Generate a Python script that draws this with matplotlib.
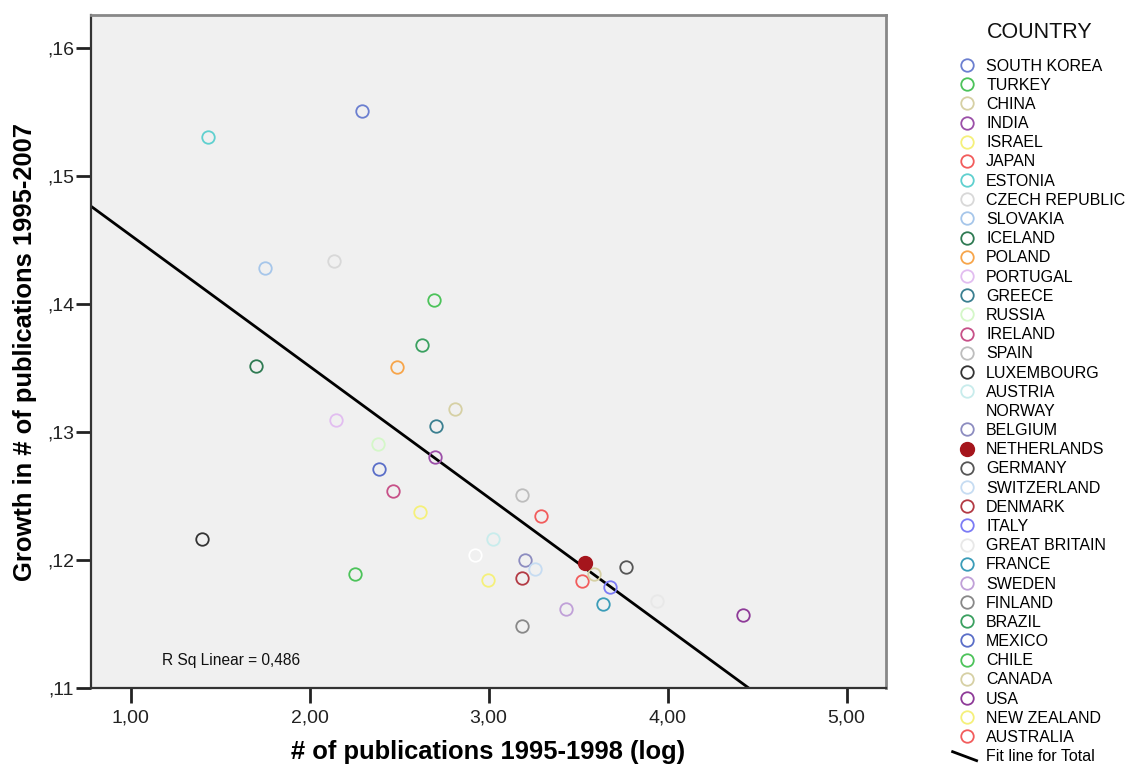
import matplotlib
matplotlib.use("Agg")
import matplotlib.pyplot as plt
from matplotlib.lines import Line2D
from matplotlib.legend_handler import HandlerLine2D
from matplotlib.ticker import FixedLocator

plt.rcParams['font.family'] = ['Liberation Sans', 'DejaVu Sans']

# --- data ---
countries = ["SOUTH KOREA", "TURKEY", "CHINA", "INDIA", "ISRAEL", "JAPAN",
             "ESTONIA", "CZECH REPUBLIC", "SLOVAKIA", "ICELAND", "POLAND",
             "PORTUGAL", "GREECE", "RUSSIA", "IRELAND", "SPAIN", "LUXEMBOURG",
             "AUSTRIA", "NORWAY", "BELGIUM", "NETHERLANDS", "GERMANY",
             "SWITZERLAND", "DENMARK", "ITALY", "GREAT BRITAIN", "FRANCE",
             "SWEDEN", "FINLAND", "BRAZIL", "MEXICO", "CHILE", "CANADA", "USA",
             "NEW ZEALAND", "AUSTRALIA"]

pubs_log = [2.290, 2.694, 2.810, 2.702, 2.996, 3.520,
            1.432, 2.134, 1.750, 1.702, 2.486,
            2.147, 2.707, 2.382, 2.465, 3.189, 1.400,
            3.024, 2.923, 3.203, 3.540, 3.765,
            3.259, 3.189, 3.678, 3.939, 3.639,
            3.432, 3.186, 2.627, 2.387, 2.255, 3.590, 4.421,
            2.615, 3.292]

growth = [0.1551, 0.1403, 0.1318, 0.1281, 0.1185, 0.1184,
          0.1531, 0.1434, 0.1428, 0.1352, 0.1351,
          0.1310, 0.1305, 0.1291, 0.1254, 0.1251, 0.1217,
          0.1217, 0.1204, 0.1200, 0.1198, 0.1195,
          0.1193, 0.1186, 0.1179, 0.1168, 0.1166,
          0.1162, 0.1149, 0.1368, 0.1271, 0.1189, 0.1189, 0.1157,
          0.1238, 0.1235]

colors = ["#6b7fd0", "#4cc35a", "#d6d0a4", "#9b4fa8", "#f5f07a", "#f25c5c",
          "#5fd0cf", "#d8d8d8", "#a6c6ea", "#2e7a52", "#f7a54a",
          "#e2bdf0", "#3a7f90", "#d4f7c8", "#c75088", "#bdbdbd", "#333333",
          "#c8ecec", "#ffffff", "#8c8cc0", "#a5151c", "#555555",
          "#c6dcf2", "#b33a44", "#7b7bf5", "#e8e8e8", "#3a9cb8",
          "#c0a0d8", "#888888", "#3aa060", "#5a6ec8", "#4cc35a", "#d6d0a4", "#8e3a98",
          "#f5f07a", "#f25c5c"]

highlight = "NETHERLANDS"

# fit line
fit_intercept = 0.15563
fit_slope = -0.010241
r_sq = "0,486"

x_ticks = [1, 2, 3, 4, 5]
x_ticklabels = ["1,00", "2,00", "3,00", "4,00", "5,00"]
y_ticks = [0.11, 0.12, 0.13, 0.14, 0.15, 0.16]
y_ticklabels = [",11", ",12", ",13", ",14", ",15", ",16"]


class DiagonalLine(HandlerLine2D):
    # the fit line entry is drawn as a short falling diagonal
    def create_artists(self, legend, orig_handle, xdescent, ydescent,
                       width, height, fontsize, trans):
        line = Line2D([-xdescent - 0.1 * width, -xdescent + 0.9 * width],
                      [height * 0.85, height * 0.05],
                      color=orig_handle.get_color(), lw=orig_handle.get_linewidth())
        line.set_transform(trans)
        return [line]


fig = plt.figure(figsize=(11.3, 7.67), dpi=100)
ax = fig.add_axes([0.0805, 0.1026, 0.7035, 0.8778])
ax.set_facecolor("#f0f0f0")

handles = []
for name, xv, yv, c in zip(countries, pubs_log, growth, colors):
    if name == highlight:
        ax.plot(xv, yv, "o", ms=10, mfc=c, mec=c, zorder=4)
        h = Line2D([], [], ls="", marker="o", ms=10, mfc=c, mec=c)
    else:
        ax.plot(xv, yv, "o", ms=9, mfc="none", mec=c, mew=1.3, zorder=3)
        h = Line2D([], [], ls="", marker="o", ms=9, mfc="none", mec=c, mew=1.3)
    handles.append(h)

x0, x1 = 0.778, 5.22
y0, y1 = 0.11, 0.1626
ax.plot([x0, x1], [fit_intercept + fit_slope * x0, fit_intercept + fit_slope * x1],
        color="black", lw=2, zorder=2)
ax.set_xlim(x0, x1)
ax.set_ylim(y0, y1)

ax.xaxis.set_major_locator(FixedLocator(x_ticks))
ax.set_xticklabels(x_ticklabels)
ax.yaxis.set_major_locator(FixedLocator(y_ticks))
ax.set_yticklabels(y_ticklabels)
ax.tick_params(direction="out", length=11, width=2, labelsize=14,
               colors="#222222")
ax.tick_params(axis="x", pad=4)
ax.tick_params(axis="y", pad=1)

for s in ["left", "bottom"]:
    ax.spines[s].set_color("#333333")
    ax.spines[s].set_linewidth(1.6)
for s in ["top", "right"]:
    ax.spines[s].set_color("#888888")
    ax.spines[s].set_linewidth(2)

ax.set_xlabel("# of publications 1995-1998 (log)", fontsize=18.4,
              fontweight="bold", labelpad=10)
ax.set_ylabel("Growth in # of publications 1995-2007", fontsize=18.4,
              fontweight="bold", labelpad=7)

ax.text(0.089, 0.041, "R Sq Linear = " + r_sq, transform=ax.transAxes,
        fontsize=11.2, va="center", ha="left", color="#111111")

fig.text(1040 / 1130, 1 - 32 / 767, "COUNTRY", fontsize=15.5,
         ha="center", va="center", color="#111111")

fit_handle = Line2D([], [], color="black", lw=2)
leg = fig.legend(handles + [fit_handle], countries + ["Fit line for Total"],
                 loc="upper left", bbox_to_anchor=(0.8395, 0.932),
                 frameon=False, fontsize=11.5, labelspacing=0.262,
                 handletextpad=0.45, handlelength=1.5, borderaxespad=0,
                 handler_map={fit_handle: DiagonalLine()})

fig.savefig("out.png", dpi=100)
